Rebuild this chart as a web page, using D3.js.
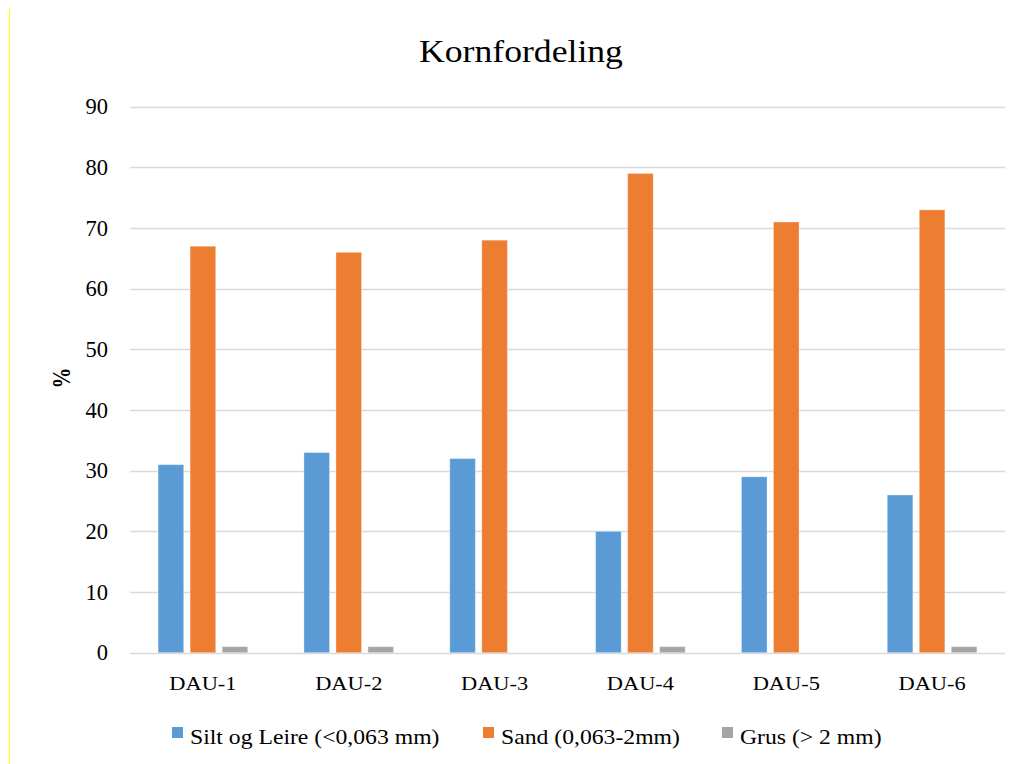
<!DOCTYPE html>
<html>
<head>
<meta charset="utf-8">
<script src="https://cdn.jsdelivr.net/npm/d3@7"></script>
<style>
  html, body { margin: 0; padding: 0; background: #fff; }
  svg { display: block; }
</style>
</head>
<body>
<svg id="chart" width="1021" height="764"></svg>
<script>
// Grain size distribution per sample
const categories = ["DAU-1", "DAU-2", "DAU-3", "DAU-4", "DAU-5", "DAU-6"];
const seriesNames = ["Silt og Leire (<0,063 mm)", "Sand (0,063-2mm)", "Grus (> 2 mm)"];
const siltLeire = [31, 33, 32, 20, 29, 26];
const sand = [67, 66, 68, 79, 71, 73];
const grus = [1, 1, 0, 1, 0, 1];
const yTicks = [0, 10, 20, 30, 40, 50, 60, 70, 80, 90];

const colors = ["#5b9bd5", "#ed7d31", "#a5a5a5"];
const seriesValues = [siltLeire, sand, grus];

const svg = d3.select("#chart");
const font = "'Liberation Serif', 'Times New Roman', serif";
const stretch = 1.15; // text is set slightly wide

// margin line on the left of the page
svg.append("rect")
  .attr("x", 9).attr("y", 8)
  .attr("width", 1).attr("height", 756)
  .attr("fill", "#ffff00");

const plot = { left: 130, right: 1005, top: 106.7, bottom: 652.7 };

const x0 = d3.scaleBand()
  .domain(categories)
  .range([plot.left, plot.right])
  .paddingInner(0).paddingOuter(0);

const x1 = d3.scaleBand()
  .domain(d3.range(seriesNames.length))
  .range([0, x0.bandwidth()])
  .paddingInner(0.2)
  .paddingOuter(0.878);

const y = d3.scaleLinear()
  .domain([0, 90])
  .range([plot.bottom, plot.top]);

// gridlines
svg.append("g")
  .selectAll("line")
  .data(yTicks)
  .join("line")
  .attr("x1", plot.left).attr("x2", plot.right)
  .attr("y1", d => Math.round(y(d)) + 0.5)
  .attr("y2", d => Math.round(y(d)) + 0.5)
  .attr("stroke", "#d9d9d9").attr("stroke-width", 1.3);

// y tick labels
svg.append("g")
  .selectAll("text")
  .data(yTicks)
  .join("text")
  .attr("x", 108)
  .attr("y", d => y(d))
  .attr("dy", "0.34em")
  .attr("text-anchor", "end")
  .attr("font-family", font)
  .attr("font-size", 22.5)
  .attr("fill", "#000")
  .text(d => d);

// bars
const rows = categories.map((c, i) => ({ cat: c, vals: seriesValues.map(s => s[i]) }));
const groups = svg.append("g")
  .selectAll("g")
  .data(rows)
  .join("g")
  .attr("transform", d => `translate(${x0(d.cat)},0)`);

groups.selectAll("rect")
  .data(d => d.vals.map((v, k) => ({ v, k })))
  .join("rect")
  .attr("x", d => x1(d.k))
  .attr("width", x1.bandwidth())
  .attr("y", d => y(d.v))
  .attr("height", d => y(0) - y(d.v))
  .attr("fill", d => colors[d.k])
  .attr("stroke", "#ffffff")
  .attr("stroke-opacity", 0.35)
  .attr("stroke-width", 1);

// x labels
svg.append("g")
  .selectAll("text")
  .data(categories)
  .join("text")
  .attr("transform", d => `translate(${x0(d) + x0.bandwidth() / 2},690) scale(${stretch},1)`)
  .attr("text-anchor", "middle")
  .attr("font-family", font)
  .attr("font-size", 19.5)
  .attr("fill", "#000")
  .text(d => d);

// title
svg.append("text")
  .attr("transform", `translate(521,62) scale(${stretch},1)`)
  .attr("text-anchor", "middle")
  .attr("font-family", font)
  .attr("font-size", 31)
  .attr("fill", "#000")
  .text("Kornfordeling");

// y axis title
svg.append("text")
  .attr("transform", "translate(70,378) rotate(-90) scale(1,1.2)")
  .attr("text-anchor", "middle")
  .attr("font-family", font)
  .attr("font-size", 21)
  .attr("font-weight", "bold")
  .attr("fill", "#000")
  .text("%");

// legend
const legendX = [172, 483, 722];
const legend = svg.append("g")
  .selectAll("g")
  .data(seriesNames)
  .join("g")
  .attr("transform", (d, i) => `translate(${legendX[i]},0)`);

legend.append("rect")
  .attr("x", 0).attr("y", 727)
  .attr("width", 11).attr("height", 11)
  .attr("fill", (d, i) => colors[i]);

legend.append("text")
  .attr("transform", `translate(18,744) scale(${stretch},1)`)
  .attr("font-family", font)
  .attr("font-size", 20.6)
  .attr("fill", "#000")
  .text(d => d);
</script>
</body>
</html>
